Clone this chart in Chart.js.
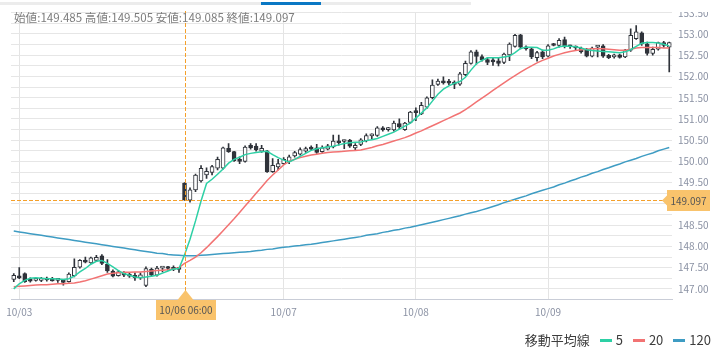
<!DOCTYPE html>
<html lang="ja">
<head>
<meta charset="utf-8">
<title>USD/JPY 1時間足</title>
<script src="https://cdn.jsdelivr.net/npm/chart.js@4.4.1/dist/chart.umd.min.js"></script>
<style>
    html, body { margin: 0; padding: 0; background: #fff; }
    body { width: 723px; height: 354px; position: relative; overflow: hidden; font-family: "Noto Sans CJK JP", "Noto Sans", sans-serif; }
    #chart { position: absolute; left: 0; top: 0; }
    #tabs { position: absolute; left: 0; top: 0; width: 723px; height: 10px; background: #fff; }
    #tabs .track { position: absolute; left: 0; top: 2px; width: 471px; height: 3px; background: #ececec; }
    #tabs .active { position: absolute; left: 261px; top: 2px; width: 60px; height: 3px; background: #0a78c4; }
    #tabs .edge { position: absolute; left: 674px; top: 0; width: 49px; height: 12px; background: #fff; }
    #ohlc { position: absolute; left: 14px; top: 9px; font-size: 11.6px; line-height: 17px; color: #7d7d7d; white-space: nowrap; }
    #legend { position: absolute; right: 12px; top: 331px; font-size: 13px; line-height: 18px; color: #3d3d3d; display: flex; align-items: center; white-space: nowrap; }
    #legend .sw { display: inline-block; width: 12px; height: 3px; margin: 0 4px 0 10px; }
</style>
</head>
<body>
<canvas id="chart" width="723" height="354"></canvas>
<div id="tabs"><div class="track"></div><div class="active"></div><div class="edge"></div></div>
<div id="ohlc"></div>
<div id="legend"></div>
<script>
// hourly sessions shown on the axis (weekend gap removed)
const sessions = [
    ['10/02', 23, 23],
    ['10/03', 0, 23],
    ['10/04', 0, 5],
    ['10/06', 6, 23],
    ['10/07', 0, 23],
    ['10/08', 0, 23],
    ['10/09', 0, 22]
];
const dayTicks = ['10/03', '10/06', '10/07', '10/08', '10/09'];
const crossTime = '10/06 06:00';

const opens = [
    147.22, 147.27, 147.36, 147.22, 147.20, 147.20, 147.24, 147.23, 147.20, 147.20,
    147.17, 147.31, 147.51, 147.66, 147.61, 147.67, 147.78, 147.58, 147.42, 147.31,
    147.37, 147.34, 147.32, 147.26, 147.08, 147.46, 147.32, 147.49, 147.51, 147.50,
    147.47, 149.485, 149.09, 149.33, 149.54, 149.68, 149.74, 149.84, 149.84, 150.31,
    150.23, 150.02, 150.00, 150.38, 150.36, 150.24, 150.25, 149.76, 149.87, 149.95,
    150.00, 150.13, 150.17, 150.24, 150.32, 150.32, 150.23, 150.29, 150.34, 150.48,
    150.47, 150.50, 150.32, 150.40, 150.48, 150.60, 150.61, 150.79, 150.75, 150.74,
    150.89, 150.75, 150.92, 151.20, 151.12, 151.28, 151.50, 151.81, 151.90, 151.89,
    151.87, 151.82, 152.04, 152.31, 152.58, 152.47, 152.40, 152.39, 152.37, 152.33,
    152.51, 152.71, 152.98, 152.69, 152.65, 152.44, 152.58, 152.48, 152.76, 152.73,
    152.87, 152.72, 152.69, 152.67, 152.64, 152.48, 152.69, 152.72, 152.50, 152.46,
    152.51, 152.46, 152.62, 152.89, 153.03, 152.77, 152.54, 152.64, 152.80, 152.69
];
const highs = [
    147.36, 147.50, 147.38, 147.26, 147.24, 147.27, 147.28, 147.27, 147.24, 147.22,
    147.38, 147.71, 147.69, 147.75, 147.75, 147.79, 147.81, 147.69, 147.45, 147.43,
    147.41, 147.38, 147.38, 147.38, 147.52, 147.49, 147.53, 147.51, 147.53, 147.54,
    147.51, 149.505, 149.38, 149.70, 149.90, 149.85, 149.91, 150.10, 150.34, 150.42,
    150.24, 150.11, 150.37, 150.42, 150.42, 150.38, 150.26, 150.07, 150.05, 150.09,
    150.15, 150.24, 150.32, 150.34, 150.37, 150.40, 150.37, 150.40, 150.62, 150.62,
    150.50, 150.52, 150.42, 150.54, 150.65, 150.65, 150.82, 150.82, 150.80, 150.95,
    151.00, 150.92, 151.18, 151.26, 151.39, 151.52, 151.92, 151.94, 151.99, 151.93,
    151.90, 152.10, 152.36, 152.61, 152.62, 152.51, 152.44, 152.44, 152.44, 152.55,
    152.79, 152.99, 152.99, 152.72, 152.67, 152.59, 152.62, 152.75, 152.78, 152.89,
    152.93, 152.74, 152.72, 152.69, 152.66, 152.69, 152.73, 152.75, 152.52, 152.53,
    152.53, 152.64, 153.12, 153.20, 153.05, 152.81, 152.69, 152.81, 152.83, 152.81
];
const lows = [
    147.17, 147.24, 147.15, 147.16, 147.18, 147.17, 147.18, 147.18, 147.15, 147.09,
    147.16, 147.28, 147.49, 147.61, 147.60, 147.64, 147.57, 147.39, 147.28, 147.30,
    147.29, 147.27, 147.20, 147.22, 147.05, 147.30, 147.30, 147.40, 147.44, 147.43,
    147.39, 149.085, 149.04, 149.29, 149.51, 149.60, 149.68, 149.80, 149.82, 150.21,
    150.00, 149.95, 149.98, 150.29, 150.24, 150.21, 149.74, 149.74, 149.80, 149.93,
    149.95, 150.10, 150.15, 150.21, 150.26, 150.19, 150.21, 150.27, 150.32, 150.38,
    150.30, 150.33, 150.26, 150.37, 150.46, 150.53, 150.59, 150.71, 150.71, 150.71,
    150.77, 150.73, 150.90, 150.96, 151.10, 151.25, 151.47, 151.79, 151.82, 151.80,
    151.71, 151.79, 152.02, 152.29, 152.29, 152.36, 152.28, 152.26, 152.25, 152.30,
    152.37, 152.69, 152.65, 152.62, 152.42, 152.36, 152.42, 152.46, 152.72, 152.69,
    152.67, 152.66, 152.63, 152.55, 152.46, 152.46, 152.46, 152.45, 152.42, 152.43,
    152.43, 152.44, 152.59, 152.87, 152.73, 152.50, 152.50, 152.62, 152.69, 152.11
];
const closes = [
    147.32, 147.26, 147.17, 147.18, 147.21, 147.23, 147.21, 147.19, 147.22, 147.15,
    147.35, 147.51, 147.67, 147.63, 147.73, 147.74, 147.60, 147.42, 147.30, 147.40,
    147.32, 147.30, 147.26, 147.33, 147.48, 147.32, 147.49, 147.50, 147.48, 147.46,
    147.46, 149.097, 149.33, 149.68, 149.84, 149.77, 149.88, 150.05, 150.32, 150.23,
    150.02, 150.00, 150.34, 150.32, 150.27, 150.31, 149.76, 149.91, 149.95, 150.05,
    150.11, 150.21, 150.28, 150.30, 150.29, 150.21, 150.32, 150.37, 150.48, 150.44,
    150.49, 150.36, 150.38, 150.51, 150.61, 150.61, 150.79, 150.74, 150.76, 150.90,
    150.81, 150.90, 151.16, 151.15, 151.32, 151.50, 151.80, 151.89, 151.85, 151.84,
    151.81, 152.06, 152.31, 152.58, 152.47, 152.39, 152.33, 152.34, 152.31, 152.53,
    152.76, 152.97, 152.69, 152.65, 152.46, 152.56, 152.46, 152.72, 152.73, 152.85,
    152.72, 152.70, 152.67, 152.58, 152.48, 152.67, 152.70, 152.48, 152.44, 152.51,
    152.45, 152.62, 152.97, 153.05, 152.77, 152.54, 152.64, 152.80, 152.73, 152.80
];

// moving averages
const ma5 = [
    147.00, 147.12, 147.20, 147.25, 147.26, 147.25, 147.24, 147.24, 147.23, 147.22,
    147.24, 147.30, 147.40, 147.48, 147.58, 147.65, 147.67, 147.60, 147.52, 147.43,
    147.36, 147.32, 147.28, 147.26, 147.28, 147.30, 147.32, 147.37, 147.42, 147.47,
    147.48, 147.80, 148.17, 148.60, 149.07, 149.48, 149.58, 149.70, 149.82, 149.96,
    150.05, 150.10, 150.16, 150.19, 150.21, 150.23, 150.24, 150.16, 150.09, 150.03,
    149.99, 150.05, 150.12, 150.19, 150.26, 150.30, 150.32, 150.34, 150.36, 150.39,
    150.42, 150.44, 150.45, 150.46, 150.49, 150.51, 150.54, 150.59, 150.64, 150.69,
    150.76, 150.83, 150.90, 151.02, 151.14, 151.26, 151.42, 151.58, 151.70, 151.78,
    151.84, 151.88, 151.98, 152.15, 152.30, 152.38, 152.44, 152.44, 152.44, 152.46,
    152.48, 152.56, 152.66, 152.69, 152.69, 152.68, 152.62, 152.62, 152.65, 152.70,
    152.72, 152.71, 152.70, 152.67, 152.63, 152.61, 152.60, 152.59, 152.58, 152.57,
    152.56, 152.58, 152.63, 152.71, 152.78, 152.80, 152.80, 152.79, 152.76, 152.72
];
const ma20 = [
    147.05, 147.06, 147.07, 147.08, 147.09, 147.10, 147.10, 147.11, 147.12, 147.12,
    147.13, 147.14, 147.16, 147.19, 147.23, 147.27, 147.31, 147.35, 147.37, 147.38,
    147.39, 147.39, 147.40, 147.40, 147.41, 147.42, 147.43, 147.44, 147.45, 147.47,
    147.50, 147.60, 147.67, 147.75, 147.85, 147.97, 148.10, 148.23, 148.37, 148.51,
    148.65, 148.80, 148.95, 149.10, 149.25, 149.40, 149.55, 149.68, 149.80, 149.92,
    150.00, 150.05, 150.09, 150.12, 150.15, 150.17, 150.19, 150.21, 150.22, 150.23,
    150.24, 150.25, 150.26, 150.27, 150.30, 150.33, 150.37, 150.40, 150.44, 150.48,
    150.52, 150.56, 150.61, 150.67, 150.72, 150.78, 150.84, 150.90, 150.96, 151.02,
    151.08, 151.14, 151.22, 151.31, 151.40, 151.49, 151.58, 151.67, 151.76, 151.85,
    151.94, 152.02, 152.10, 152.18, 152.25, 152.32, 152.38, 152.43, 152.48, 152.52,
    152.56, 152.59, 152.61, 152.63, 152.64, 152.65, 152.65, 152.65, 152.64, 152.63,
    152.62, 152.62, 152.64, 152.67, 152.68, 152.68, 152.68, 152.68, 152.67, 152.67
];
const ma120 = [
    148.36, 148.34, 148.32, 148.30, 148.28, 148.26, 148.24, 148.22, 148.20, 148.18,
    148.16, 148.14, 148.12, 148.10, 148.08, 148.06, 148.04, 148.02, 148.00, 147.98,
    147.96, 147.94, 147.92, 147.90, 147.88, 147.86, 147.84, 147.83, 147.81, 147.80,
    147.79, 147.78, 147.78, 147.78, 147.79, 147.80, 147.81, 147.82, 147.83, 147.84,
    147.85, 147.86, 147.87, 147.88, 147.90, 147.91, 147.93, 147.94, 147.96, 147.98,
    147.99, 148.01, 148.02, 148.04, 148.05, 148.07, 148.09, 148.11, 148.13, 148.15,
    148.17, 148.19, 148.21, 148.23, 148.26, 148.28, 148.30, 148.33, 148.35, 148.38,
    148.40, 148.43, 148.45, 148.48, 148.51, 148.54, 148.57, 148.60, 148.63, 148.66,
    148.69, 148.72, 148.76, 148.79, 148.82, 148.86, 148.90, 148.94, 148.98, 149.03,
    149.07, 149.11, 149.15, 149.19, 149.24, 149.28, 149.32, 149.36, 149.40, 149.45,
    149.49, 149.54, 149.58, 149.63, 149.67, 149.72, 149.76, 149.81, 149.85, 149.90,
    149.94, 149.99, 150.03, 150.07, 150.12, 150.16, 150.20, 150.25, 150.29, 150.33
];

const maColors = { '5': '#2dd0a5', '20': '#f27373', '120': '#3e9cc3' };
const candleDark = '#2f333a';
const tagColor = '#f9c36c';
const crossColor = '#f5a02a';

// category labels
const times = [];
sessions.forEach(([day, from, to]) => {
    for (let h = from; h <= to; h++) times.push(day + ' ' + String(h).padStart(2, '0') + ':00');
});

function tickLabel(i) {
    const day = times[i].split(' ')[0];
    const first = i === 0 || times[i - 1].split(' ')[0] !== day;
    return first && dayTicks.includes(day) ? day : '';
}

const bodies = opens.map((o, i) => [o, closes[i]]);
const wicks = lows.map((l, i) => [l, highs[i]]);
const bodyFill = opens.map((o, i) => closes[i] >= o ? '#ffffff' : candleDark);

const crossIndex = times.indexOf(crossTime);

// header with OHLC of the crosshair candle
document.getElementById('ohlc').textContent =
    '始値:' + opens[crossIndex].toFixed(3) + ' 高値:' + highs[crossIndex].toFixed(3) +
    ' 安値:' + lows[crossIndex].toFixed(3) + ' 終値:' + closes[crossIndex].toFixed(3);

// legend
const legend = document.getElementById('legend');
legend.innerHTML = '<span>移動平均線</span>' + Object.keys(maColors).map(k =>
    `<span class="sw" style="background:${maColors[k]}"></span><span>${k}</span>`).join('');

Chart.defaults.font.family = '"Noto Sans CJK JP", "Noto Sans", sans-serif';

const crosshair = {
    id: 'crosshair',
    afterDraw(chart) {
        const ctx = chart.ctx;
        const a = chart.chartArea;
        const cx = Math.round(chart.scales.x.getPixelForValue(crossIndex));
        const cy = Math.round(chart.scales.y.getPixelForValue(closes[crossIndex]));
        ctx.save();
        // dashed crosshair as crisp 1px dashes
        ctx.fillStyle = crossColor;
        for (let y = Math.round(a.top) - 2; y < a.bottom; y += 6) ctx.fillRect(cx, y, 1, Math.min(4, a.bottom - y));
        for (let x = Math.round(a.left); x < a.right; x += 6) ctx.fillRect(x, cy, Math.min(4, a.right - x), 1);

        ctx.fillStyle = tagColor;
        // time tag under the axis
        const by = Math.round(a.bottom);
        ctx.beginPath();
        ctx.moveTo(cx - 7.5, by);
        ctx.lineTo(cx + 0.5, by - 10);
        ctx.lineTo(cx + 8.5, by);
        ctx.closePath();
        ctx.fill();
        ctx.fillRect(cx - 29, by, 60, 20);
        // price tag on the right axis
        const rx = Math.round(a.right) - 5;
        ctx.beginPath();
        ctx.moveTo(rx, cy - 4.5);
        ctx.lineTo(rx - 5, cy + 0.5);
        ctx.lineTo(rx, cy + 5.5);
        ctx.closePath();
        ctx.fill();
        ctx.fillRect(rx, cy - 10, 43, 21);

        ctx.fillStyle = '#555';
        ctx.font = '10px "Noto Sans CJK JP", "Noto Sans", sans-serif';
        ctx.textAlign = 'center';
        ctx.textBaseline = 'middle';
        ctx.fillText(crossTime, cx + 1, by + 10);
        ctx.fillText(closes[crossIndex].toFixed(3), rx + 21.5, cy + 1);
        ctx.restore();
    }
};

new Chart(document.getElementById('chart'), {
    type: 'bar',
    data: {
        labels: times,
        datasets: [
            { type: 'line', label: '5', data: ma5, borderColor: maColors['5'], borderWidth: 1.5, pointRadius: 0, order: 0 },
            { type: 'line', label: '20', data: ma20, borderColor: maColors['20'], borderWidth: 1.5, pointRadius: 0, order: 0 },
            { type: 'line', label: '120', data: ma120, borderColor: maColors['120'], borderWidth: 1.5, pointRadius: 0, order: 0 },
            {
                label: 'body', data: bodies, backgroundColor: bodyFill, borderColor: candleDark,
                borderWidth: 1, borderSkipped: false, barThickness: 4, minBarLength: 2, grouped: false, order: 1
            },
            { label: 'wick', data: wicks, backgroundColor: candleDark, barThickness: 1, grouped: false, order: 2 }
        ]
    },
    options: {
        responsive: false,
        animation: false,
        devicePixelRatio: 1,
        layout: { padding: { left: 11, top: 12.75, right: 0, bottom: 24.5 } },
        plugins: { legend: { display: false }, tooltip: { enabled: false } },
        scales: {
            x: {
                offset: true,
                afterFit: s => { s.height = 30; },
                grid: {
                    offset: false,
                    drawTicks: false,
                    color: c => (c.tick && c.tick.label && c.index !== crossIndex) ? '#e4e4e4' : 'rgba(0,0,0,0)'
                },
                border: { color: '#c9cdd7' },
                ticks: {
                    autoSkip: false,
                    maxRotation: 0,
                    padding: 7,
                    color: '#8a91a3',
                    font: { size: 10 },
                    callback: (v, i) => tickLabel(i)
                }
            },
            y: {
                position: 'right',
                min: 146.75,
                max: 153.5,
                afterFit: s => { s.width = 51; },
                grid: { color: '#e6e6e6', drawTicks: false },
                border: { display: false },
                ticks: {
                    stepSize: 0.25,
                    maxTicksLimit: 40,
                    autoSkip: false,
                    padding: 6,
                    color: '#8a91a3',
                    font: { size: 10 },
                    callback: v => Math.round(v * 100) % 50 === 0 ? v.toFixed(2) : ''
                }
            }
        }
    },
    plugins: [crosshair]
});
</script>
</body>
</html>
